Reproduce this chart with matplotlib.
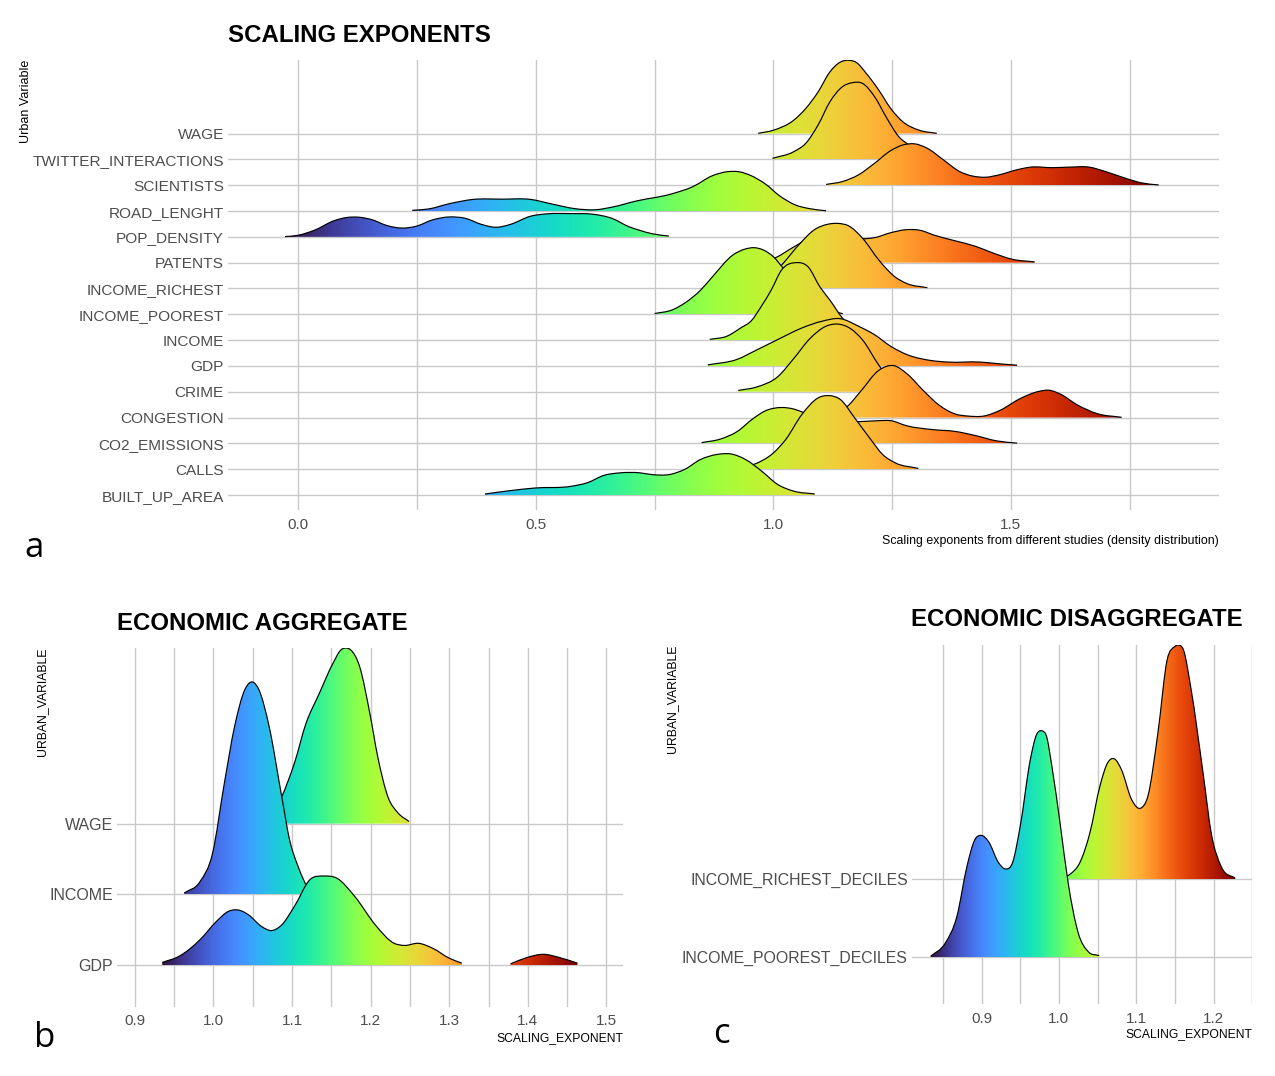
import numpy as np
import matplotlib
matplotlib.use('Agg')
import matplotlib.pyplot as plt
from matplotlib.patches import PathPatch
from matplotlib.path import Path

W, H = 1275, 1076
plt.rcParams['font.family'] = ['Liberation Sans', 'DejaVu Sans']

# Panel a: ridge curves, x = exponent, h = height in row units
rows_a = ['BUILT_UP_AREA', 'CALLS', 'CO2_EMISSIONS', 'CONGESTION', 'CRIME', 'GDP', 'INCOME',
          'INCOME_POOREST', 'INCOME_RICHEST', 'PATENTS', 'POP_DENSITY', 'ROAD_LENGHT',
          'SCIENTISTS', 'TWITTER_INTERACTIONS', 'WAGE']

wage_x = [.968, 1.0, 1.043, 1.068, 1.094, 1.119, 1.141, 1.158, 1.175, 1.196, 1.222, 1.247, 1.273, 1.307, 1.344]
wage_h = [.01, .13, .52, .97, 1.61, 2.39, 2.77, 2.84, 2.75, 2.32, 1.68, .97, .45, .13, .01]

twitter_x = [.998, 1.043, 1.068, 1.094, 1.119, 1.145, 1.166, 1.188, 1.213, 1.239, 1.264, 1.286, 1.315, 1.345]
twitter_h = [.04, .30, .62, 1.33, 2.23, 2.81, 2.97, 2.94, 2.43, 1.59, .88, .55, .17, .03]

scientists_x = [1.111, 1.145, 1.179, 1.213, 1.247, 1.273, 1.298, 1.324, 1.358, 1.392, 1.418, 1.447, 1.477,
                1.511, 1.541, 1.588, 1.622, 1.665, 1.699, 1.741, 1.775, 1.811]
scientists_h = [.03, .14, .40, .85, 1.34, 1.56, 1.60, 1.43, .98, .53, .36, .31, .41,
                .59, .70, .68, .70, .70, .53, .27, .09, .01]

road_x = [.240, .274, .317, .368, .429, .489, .532, .583, .626, .660, .712, .783, .830, .872, .902, .928,
          .953, .983, 1.013, 1.047, 1.077, 1.111]
road_h = [.03, .08, .28, .45, .46, .45, .28, .09, .05, .15, .39, .65, .94, 1.37, 1.52, 1.52,
          1.37, 1.05, .59, .23, .09, .01]

pop_x = [-.028, -.001, .033, .076, .102, .128, .154, .188, .218, .248, .283, .317, .351, .386, .416, .446,
         .489, .523, .575, .618, .661, .695, .719, .745, .780]
pop_h = [.01, .06, .25, .63, .75, .76, .67, .43, .34, .41, .66, .77, .72, .48, .37, .48,
         .80, .89, .90, .88, .71, .40, .25, .12, .03]

patents_x = [.955, .975, 1.0, 1.043, 1.085, 1.137, 1.188, 1.213, 1.247, 1.281, 1.307, 1.341, 1.384, 1.426, 1.46, 1.503, 1.55]
patents_h = [.02, .06, .16, .61, 1.03, 1.25, .93, .97, 1.16, 1.28, 1.26, 1.05, .84, .63, .39, .13, .03]

richest_x = [.94, .983, 1.017, 1.056, 1.085, 1.115, 1.137, 1.158, 1.188, 1.222, 1.256, 1.281, 1.324]
richest_h = [.06, .26, .90, 1.74, 2.26, 2.49, 2.52, 2.43, 1.94, 1.10, .45, .19, .03]

poorest_x = [.75, .787, .813, .847, .872, .915, .941, .96, .979, 1.0, 1.021, 1.06, 1.102, 1.13, 1.146]
poorest_h = [.03, .17, .43, .94, 1.46, 2.30, 2.53, 2.58, 2.49, 2.23, 1.78, 1.0, .5, .12, .02]

income_x = [.866, .902, .932, .953, .975, .996, 1.017, 1.047, 1.073, 1.098, 1.119, 1.145, 1.17, 1.2]
income_h = [.03, .15, .48, .74, 1.32, 1.96, 2.71, 3.0, 2.84, 2.06, 1.55, .86, .41, .02]

gdp_x = [.862, .923, .966, 1.009, 1.06, 1.102, 1.141, 1.179, 1.213, 1.247, 1.281, 1.332, 1.367, 1.435, 1.477, 1.513]
gdp_h = [.04, .25, .63, 1.02, 1.47, 1.73, 1.83, 1.54, 1.21, .76, .44, .21, .15, .15, .08, .03]

crime_x = [.926, .966, 1.009, 1.043, 1.077, 1.111, 1.136, 1.162, 1.188, 1.222, 1.247, 1.281, 1.30]
crime_h = [.05, .19, .58, 1.29, 2.06, 2.54, 2.62, 2.45, 2.0, 1.03, .45, .13, .02]

congestion_x = [1.043, 1.085, 1.119, 1.154, 1.183, 1.222, 1.254, 1.281, 1.315, 1.349, 1.384, 1.409, 1.443,
                1.477, 1.52, 1.558, 1.58, 1.605, 1.639, 1.682, 1.733]
congestion_h = [.01, .09, .22, .41, 1.0, 1.83, 2.01, 1.70, 1.06, .48, .13, .06, .06,
                .28, .74, 1.01, 1.06, .90, .50, .15, .01]

co2_x = [.849, .889, .923, .958, .983, 1.017, 1.043, 1.068, 1.119, 1.179, 1.222, 1.247, 1.281, 1.332, 1.384, 1.426, 1.469, 1.513]
co2_h = [.03, .17, .45, .97, 1.26, 1.39, 1.33, 1.16, .84, .84, .88, .88, .68, .54, .46, .30, .10, .01]

calls_x = [.915, .958, 1.0, 1.026, 1.06, 1.094, 1.118, 1.141, 1.171, 1.205, 1.23, 1.256, 1.305]
calls_h = [.03, .18, .63, 1.15, 2.12, 2.76, 2.85, 2.70, 1.99, 1.15, .57, .25, .03]

built_x = [.393, .446, .497, .575, .609, .643, .678, .719, .745, .783, .813, .847, .881, .911, .941, .975, 1.009, 1.043, 1.087]
built_h = [.04, .17, .27, .34, .48, .76, .86, .86, .79, .80, .99, 1.38, 1.57, 1.59, 1.38, .93, .41, .15, .04]

# Panel b
rows_b = ['GDP', 'INCOME', 'WAGE']

b_gdp_x = [.935, .957, .983, 1.004, 1.019, 1.032, 1.045, 1.061, 1.074, 1.087, 1.103, 1.123, 1.141, 1.157, 1.18,
           1.206, 1.23, 1.243, 1.261, 1.279, 1.3, 1.316]
b_gdp_h = [.04, .13, .36, .62, .76, .78, .71, .55, .49, .57, .83, 1.21, 1.26, 1.23, .97,
           .57, .31, .28, .31, .24, .10, .03]
b_gdp2_x = [1.378, 1.399, 1.419, 1.44, 1.463]
b_gdp2_h = [.02, .11, .155, .11, .03]

b_income_x = [.963, .983, .999, 1.014, 1.027, 1.04, 1.05, 1.058, 1.071, 1.087, 1.097, 1.108, 1.121, 1.139]
b_income_h = [.02, .18, .58, 1.57, 2.37, 2.89, 3.0, 2.89, 2.37, 1.38, .77, .39, .08, .01]

b_wage_x = [1.061, 1.071, 1.087, 1.103, 1.118, 1.134, 1.152, 1.162, 1.169, 1.175, 1.186, 1.199, 1.209, 1.222, 1.235, 1.249]
b_wage_h = [.01, .05, .38, .85, 1.42, 1.82, 2.26, 2.45, 2.48, 2.45, 2.22, 1.56, .95, .38, .15, .03]

# Panel c
rows_c = ['INCOME_POOREST_DECILES', 'INCOME_RICHEST_DECILES']

c_poorest_x = [.834, .853, .868, .881, .891, .9, .909, .922, .931, .94, .95, .963, .971, .978, .984, .991,
               1.002, 1.012, 1.025, 1.038, 1.052]
c_poorest_h = [.01, .18, .52, 1.16, 1.50, 1.56, 1.48, 1.21, 1.13, 1.21, 1.68, 2.53, 2.85, 2.90, 2.83, 2.44,
               1.68, .95, .31, .07, .02]

c_richest_x = [1.002, 1.014, 1.027, 1.04, 1.053, 1.063, 1.072, 1.081, 1.094, 1.106, 1.115, 1.128, 1.14, 1.15,
               1.155, 1.161, 1.171, 1.187, 1.197, 1.21, 1.228]
c_richest_h = [.01, .06, .21, .59, 1.19, 1.49, 1.54, 1.40, 1.02, .91, 1.06, 1.87, 2.81, 2.98,
               3.0, 2.94, 2.43, 1.32, .59, .16, .01]

GRID = '#c9c9c9'
TICK = '#4d4d4d'

fig = plt.figure(figsize=(W / 100, H / 100), dpi=100, facecolor='white')


def px_axes(left, right, top, bottom):
    return fig.add_axes([left / W, 1 - bottom / H, (right - left) / W, (bottom - top) / H])


def px_text(x, y, s, **kw):
    return fig.text(x / W, 1 - y / H, s, **kw)


def curve_path(xs, ys):
    # bezier segments through the read points, so the outline is drawn smooth
    slopes = np.gradient(ys, xs)
    verts = [(xs[0], ys[0])]
    codes = [Path.MOVETO]
    for i in range(len(xs) - 1):
        d = (xs[i + 1] - xs[i]) / 3
        verts += [(xs[i] + d, ys[i] + d * slopes[i]),
                  (xs[i + 1] - d, ys[i + 1] - d * slopes[i + 1]),
                  (xs[i + 1], ys[i + 1])]
        codes += [Path.CURVE4] * 3
    return verts, codes


def ridge(ax, row, xs, hs, vmin, vmax, z):
    # gradient fill clipped to the ridge, outline only on the top edge
    xs = np.array(xs)
    ys = row + np.array(hs)
    verts, codes = curve_path(xs, ys)
    closed = Path(verts + [(xs[-1], row), (xs[0], row), (xs[0], ys[0])],
                  codes + [Path.LINETO, Path.LINETO, Path.CLOSEPOLY])
    poly = PathPatch(closed, transform=ax.transData, fc='none', ec='none')
    ax.add_patch(poly)
    grad = np.linspace(0, 1, 512).reshape(1, -1)
    im = ax.imshow(grad, cmap='turbo', vmin=0, vmax=1, aspect='auto', origin='lower',
                   extent=(vmin, vmax, row, row + max(hs) + .2), zorder=z, interpolation='bilinear')
    im.set_clip_path(poly)
    ax.add_patch(PathPatch(Path(verts, codes), fc='none', ec='black', lw=0.85, zorder=z + 0.5))


def style(ax, major, minor, labels, xlim, ylim, y_size):
    ax.set_xlim(xlim)
    ax.set_ylim(ylim)
    ax.set_xticks(major)
    ax.set_xticklabels(['%.1f' % v for v in major])
    ax.set_xticks(minor, minor=True)
    ax.set_yticks(range(1, len(labels) + 1))
    ax.set_yticklabels(labels)
    ax.grid(True, which='both', color=GRID, lw=1.0, zorder=0)
    ax.set_axisbelow(True)
    ax.tick_params(which='both', length=0)
    ax.tick_params(axis='y', pad=3, labelsize=y_size, labelcolor=TICK)
    ax.tick_params(axis='x', pad=5.5, labelsize=11, labelcolor=TICK)
    for s in ax.spines.values():
        s.set_visible(False)
    ax.patch.set_alpha(0)


# a
ax_a = px_axes(228, 1219, 60, 510)
ridges_a = [(15, wage_x, wage_h), (14, twitter_x, twitter_h), (13, scientists_x, scientists_h),
            (12, road_x, road_h), (11, pop_x, pop_h), (10, patents_x, patents_h),
            (9, richest_x, richest_h), (8, poorest_x, poorest_h), (7, income_x, income_h),
            (6, gdp_x, gdp_h), (5, crime_x, crime_h), (4, congestion_x, congestion_h),
            (3, co2_x, co2_h), (2, calls_x, calls_h), (1, built_x, built_h)]
for i, (row, xs, hs) in enumerate(ridges_a):
    ridge(ax_a, row, xs, hs, -.03, 1.81, 3 + i)
style(ax_a, [0, .5, 1, 1.5], [.25, .75, 1.25, 1.75], rows_a, (-.148, 1.938), (.42, 17.85), 11.1)

# b
ax_b = px_axes(117, 623, 648, 1006.7)
ridge(ax_b, 3, b_wage_x, b_wage_h, .935, 1.463, 3)
ridge(ax_b, 2, b_income_x, b_income_h, .935, 1.463, 4)
ridge(ax_b, 1, b_gdp_x, b_gdp_h, .935, 1.463, 5)
ridge(ax_b, 1, b_gdp2_x, b_gdp2_h, .935, 1.463, 6)
style(ax_b, [.9, 1.0, 1.1, 1.2, 1.3, 1.4, 1.5], [.95, 1.05, 1.15, 1.25, 1.35, 1.45], rows_b,
      (.8775, 1.521), (.415, 5.48), 11.5)

# c
ax_c = px_axes(912, 1252.2, 645, 1004)
ridge(ax_c, 2, c_richest_x, c_richest_h, .834, 1.228, 3)
ridge(ax_c, 1, c_poorest_x, c_poorest_h, .834, 1.228, 4)
style(ax_c, [.9, 1.0, 1.1, 1.2], [.85, .95, 1.05, 1.15, 1.25], rows_c, (.81, 1.2487), (.40, 5.0), 11.45)

# titles
px_text(228, 35, 'SCALING EXPONENTS', fontsize=17.3, fontweight='bold', va='center')
px_text(117, 623.5, 'ECONOMIC AGGREGATE', fontsize=17.3, fontweight='bold', va='center')
px_text(911, 620, 'ECONOMIC DISAGGREGATE', fontsize=17.3, fontweight='bold', va='center')

# axis titles
px_text(26, 60, 'Urban Variable', fontsize=9, rotation=90, va='top', ha='center')
px_text(42, 648, 'URBAN_VARIABLE', fontsize=8.8, rotation=90, va='top', ha='center')
px_text(672, 645, 'URBAN_VARIABLE', fontsize=8.8, rotation=90, va='top', ha='center')
px_text(1219, 541, 'Scaling exponents from different studies (density distribution)', fontsize=8.9, ha='right', va='center')
px_text(623, 1038.5, 'SCALING_EXPONENT', fontsize=8.7, ha='right', va='center')
px_text(1252, 1034.5, 'SCALING_EXPONENT', fontsize=8.7, ha='right', va='center')

# panel letters
px_text(24, 557, 'a', fontsize=25, family='Open Sans')
px_text(34, 1047, 'b', fontsize=25, family='Open Sans')
px_text(713, 1043, 'c', fontsize=25, family='Open Sans')

fig.savefig('out.png', dpi=100, facecolor='white')
